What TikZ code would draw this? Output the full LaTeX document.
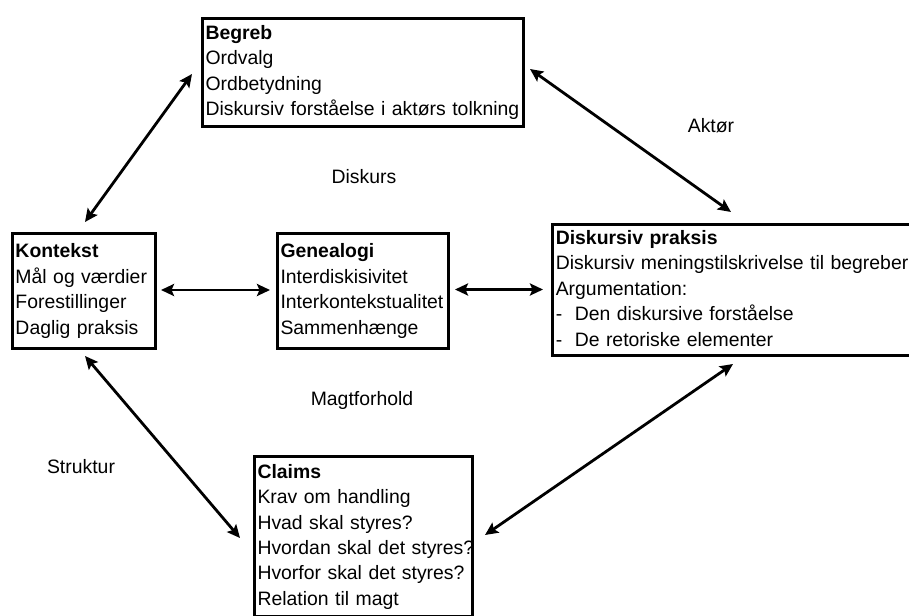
\documentclass[tikz,border=0pt]{standalone}
\usepackage{fontspec}
\setmainfont{Liberation Sans}
\usetikzlibrary{arrows.meta}
\begin{document}
\begin{tikzpicture}[x=1pt,y=-1pt,
  txtfont/.style={font=\fontsize{19.4}{25.4}\selectfont},
  box/.style={draw, line width=3pt, rectangle, anchor=north west,
    inner xsep=2.5pt, inner ysep=0pt, align=left, txtfont,
    execute at begin node=\strut, execute at end node=\strut},
  arr/.style={line width=2.8pt,
    {Stealth[length=13pt,width=12pt,inset=2.5pt]}-{Stealth[length=13pt,width=12pt,inset=2.5pt]}},
  lbl/.style={txtfont, inner sep=0pt}]
\useasboundingbox (0,0) rectangle (909,615);
\clip (0,0) rectangle (909,615);
\fill[white] (0,0) rectangle (909,615);

\node[box, minimum width=320.4pt, minimum height=107.4pt, text width=315pt]
  (begreb) at (201.3,17.3)
  {\textbf{Begreb}\\Ordvalg\\Ordbetydning\\\mbox{Diskursiv forståelse i aktørs tolkning}};

\node[box, minimum width=142.4pt, minimum height=114.4pt, text width=137pt]
  (kontekst) at (11.3,232.3)
  {\textbf{Kontekst}\\Mål og værdier\\Forestillinger\\Daglig praksis};

\node[box, minimum width=170.4pt, minimum height=114.4pt, text width=165pt]
  (genealogi) at (276.3,232.3)
  {\textbf{Genealogi}\\Interdiskisivitet\\\mbox{Interkontekstualitet}\\Sammenhænge};

\node[box, minimum width=380pt, minimum height=131pt, text width=374pt]
  (praksis) at (551.3,223.3)
  {\textbf{Diskursiv praksis}\\\mbox{Diskursiv meningstilskrivelse til begreber}\\Argumentation:\\-\hspace{12.5pt}Den diskursive forståelse\\-\hspace{12.5pt}De retoriske elementer};

\node[box, minimum width=217.4pt, minimum height=159.8pt, text width=212pt]
  (claims) at (253.3,455.3)
  {\textbf{Claims}\\Krav om handling\\Hvad skal styres?\\\mbox{Hvordan skal det styres?}\\\mbox{Hvorfor skal det styres?}\\Relation til magt};

\node[lbl] (diskurs) at (364,177) {Diskurs};
\node[lbl] (aktoer) at (711,126) {Aktør};
\node[lbl] (magt) at (362,400) {Magtforhold};
\node[lbl] (struktur) at (81,467) {Struktur};

\coordinate (bk1) at (192,74);
\coordinate (bk2) at (85,222);
\coordinate (bp1) at (530,69);
\coordinate (bp2) at (731,212);
\coordinate (kg1) at (161,290);
\coordinate (kg2) at (270,290);
\coordinate (gp1) at (455,289.5);
\coordinate (gp2) at (543,289.5);
\coordinate (kc1) at (85,356);
\coordinate (kc2) at (240,538);
\coordinate (pc1) at (733,364);
\coordinate (pc2) at (485,535);

\draw[arr] (bk1) -- (bk2);
\draw[arr] (bp1) -- (bp2);
\draw[arr] (kg1) -- (kg2);
\draw[arr] (gp1) -- (gp2);
\draw[arr] (kc1) -- (kc2);
\draw[arr] (pc1) -- (pc2);
\end{tikzpicture}
\end{document}
